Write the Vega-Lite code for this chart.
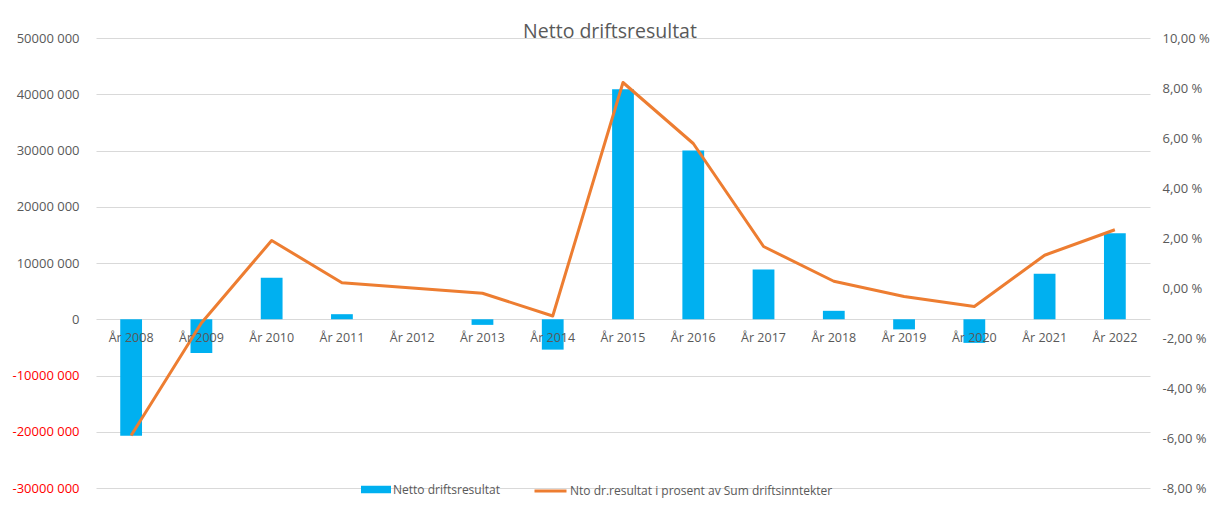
{
  "$schema": "https://vega.github.io/schema/vega-lite/v6.json",
  "autosize": {"type": "none"},
  "width": 1054,
  "height": 450,
  "padding": {"left": 96, "top": 38, "right": 69, "bottom": 21},
  "background": "white",
  "config": {
    "font": "Open Sans",
    "view": {"stroke": null},
    "axis": {"labelColor": "#595959", "labelFont": "Open Sans", "title": null}
  },
  "title": {
    "text": "Netto driftsresultat",
    "font": "Open Sans",
    "fontSize": 19.5,
    "fontWeight": "normal",
    "color": "#595959",
    "anchor": "middle",
    "baseline": "alphabetic",
    "dx": -13,
    "offset": -25
  },
  "data": {
    "values": [
      {"year": "År 2008", "netto": -20700000, "pct": -5.9},
      {"year": "År 2009", "netto": -6000000, "pct": -1.4},
      {"year": "År 2010", "netto": 7400000, "pct": 1.9},
      {"year": "År 2011", "netto": 900000, "pct": 0.21},
      {"year": "År 2012", "netto": 0, "pct": 0.0},
      {"year": "År 2013", "netto": -1000000, "pct": -0.21},
      {"year": "År 2014", "netto": -5400000, "pct": -1.12},
      {"year": "År 2015", "netto": 40900000, "pct": 8.22},
      {"year": "År 2016", "netto": 30000000, "pct": 5.78},
      {"year": "År 2017", "netto": 8850000, "pct": 1.66},
      {"year": "År 2018", "netto": 1500000, "pct": 0.27},
      {"year": "År 2019", "netto": -1800000, "pct": -0.34},
      {"year": "År 2020", "netto": -4200000, "pct": -0.74},
      {"year": "År 2021", "netto": 8100000, "pct": 1.31},
      {"year": "År 2022", "netto": 15300000, "pct": 2.33}
    ]
  },
  "encoding": {
    "x": {
      "field": "year",
      "type": "nominal",
      "sort": null,
      "scale": {"paddingInner": 0.69, "paddingOuter": 0.345},
      "axis": {
        "orient": "bottom",
        "offset": -168.75,
        "labelAngle": 0,
        "labelFontSize": 12.5,
        "labelPadding": 12,
        "ticks": false,
        "domain": false,
        "grid": false,
        "zindex": 1
      }
    }
  },
  "layer": [
    {
      "mark": {"type": "bar", "color": "#00B0F0"},
      "encoding": {
        "y": {
          "field": "netto",
          "type": "quantitative",
          "scale": {"domain": [-30000000, 50000000], "nice": false, "zero": false},
          "axis": {
            "orient": "left",
            "values": [-30000000, -20000000, -10000000, 0, 10000000, 20000000, 30000000, 40000000, 50000000],
            "labelExpr": "datum.value == 0 ? '0' : (datum.value / 1000) + ' 000'",
            "labelFontSize": 13,
            "labelPadding": 17,
            "labelColor": {"condition": {"test": "datum.value < 0", "value": "#FF0000"}, "value": "#595959"},
            "ticks": false,
            "domain": false,
            "grid": true,
            "gridColor": "#D9D9D9",
            "gridWidth": 1
          }
        },
        "color": {
          "datum": "Netto driftsresultat",
          "type": "nominal",
          "scale": {"range": ["#00B0F0"]},
          "legend": {
            "orient": "none",
            "legendX": 265,
            "legendY": 436.5,
            "direction": "horizontal",
            "title": null,
            "padding": 0,
            "symbolType": "M-1,-0.25H1V0.25H-1Z",
            "symbolSize": 900,
            "symbolStrokeWidth": 0,
            "labelFontSize": 12,
            "labelColor": "#595959",
            "labelFont": "Open Sans",
            "labelOffset": 2,
            "labelLimit": 0
          }
        }
      }
    },
    {
      "mark": {"type": "line", "strokeWidth": 3, "strokeJoin": "round"},
      "encoding": {
        "y": {
          "field": "pct",
          "type": "quantitative",
          "scale": {"domain": [-8, 10], "nice": false, "zero": false},
          "axis": {
            "orient": "right",
            "values": [-8, -6, -4, -2, 0, 2, 4, 6, 8, 10],
            "labelExpr": "(datum.value < 0 ? '-' : '') + replace(format(abs(datum.value), '.2f'), '.', ',') + ' %'",
            "labelFontSize": 13,
            "labelPadding": 12,
            "ticks": false,
            "domain": false,
            "grid": false
          }
        },
        "stroke": {
          "datum": "Nto dr.resultat i prosent av Sum driftsinntekter",
          "type": "nominal",
          "scale": {"range": ["#ED7D31"]},
          "legend": {
            "orient": "none",
            "legendX": 437,
            "legendY": 435.5,
            "direction": "horizontal",
            "title": null,
            "padding": 0,
            "symbolType": "stroke",
            "symbolSize": 1024,
            "symbolStrokeWidth": 3,
            "labelFontSize": 12,
            "labelColor": "#595959",
            "labelFont": "Open Sans",
            "labelOffset": 2,
            "labelLimit": 0
          }
        }
      }
    }
  ],
  "resolve": {"scale": {"y": "independent"}}
}
